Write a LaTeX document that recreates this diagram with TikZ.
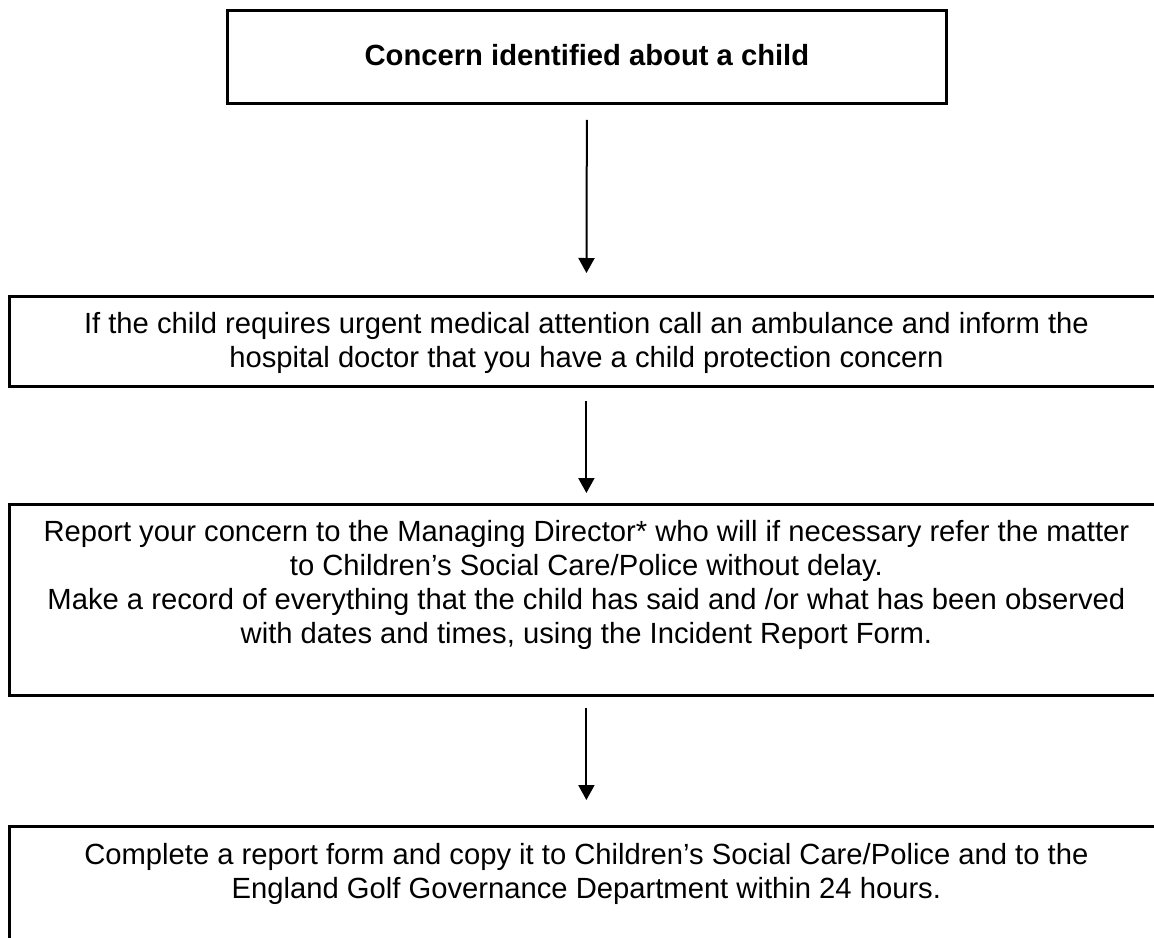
\documentclass[tikz,border=0pt]{standalone}
\usepackage{fontspec}
\setmainfont{Liberation Sans}
\usetikzlibrary{arrows.meta,calc}
\tikzset{
  flowbox/.style={draw=black,line width=1.4pt,rectangle,inner sep=0pt,anchor=north west},
  flowtext/.style={inner sep=0pt,align=center,font=\fontsize{14.6pt}{17.1pt}\selectfont},
  flowarrow/.style={line width=1pt,-{Triangle[width=8pt,length=7.5pt]}}
}
\begin{document}
\begin{tikzpicture}[x=0.5pt,y=-0.5pt]
\path[use as bounding box] (0,0) rectangle (1154,937);
\clip (0,0) rectangle (1154,937);
% boxes (px coordinates, y downwards)
\node[flowbox,minimum width=359.5pt,minimum height=46.5pt] (b1) at (226,9) {};
\node[flowbox,minimum width=577pt,minimum height=45pt] (b2) at (8,295) {};
\node[flowbox,minimum width=577pt,minimum height=95.5pt] (b3) at (8,503) {};
\node[flowbox,minimum width=577pt,minimum height=70pt] (b4) at (8,825) {};
% texts
\node[flowtext,font=\fontsize{14.6pt}{17.1pt}\selectfont\bfseries] (t1) at ($(b1.center)+(0,-2)$) {Concern identified about a child};
\node[flowtext] (t2) at ($(b2.north)+(0,48)$) {If the child requires urgent medical attention call an ambulance and inform the\\hospital doctor that you have a child protection concern};
\node[flowtext] (t3) at ($(b3.north)+(0,82)$) {Report your concern to the Managing Director* who will if necessary refer the matter\\to Children’s Social Care/Police without delay.\\Make a record of everything that the child has said and /or what has been observed\\with dates and times, using the Incident Report Form.};
\node[flowtext] (t4) at ($(b4.north)+(0,49)$) {Complete a report form and copy it to Children’s Social Care/Police and to the\\England Golf Governance Department within 24 hours.};
% arrows
\draw[flowarrow,shorten <=7.5pt,shorten >=11pt] (b1.south) -- (b2.north);
\draw[flowarrow,shorten <=6.5pt,shorten >=5pt] (b2.south) -- (b3.north);
\draw[flowarrow,shorten <=5.5pt,shorten >=12.5pt] (b3.south) -- (b4.north);
\end{tikzpicture}
\end{document}
